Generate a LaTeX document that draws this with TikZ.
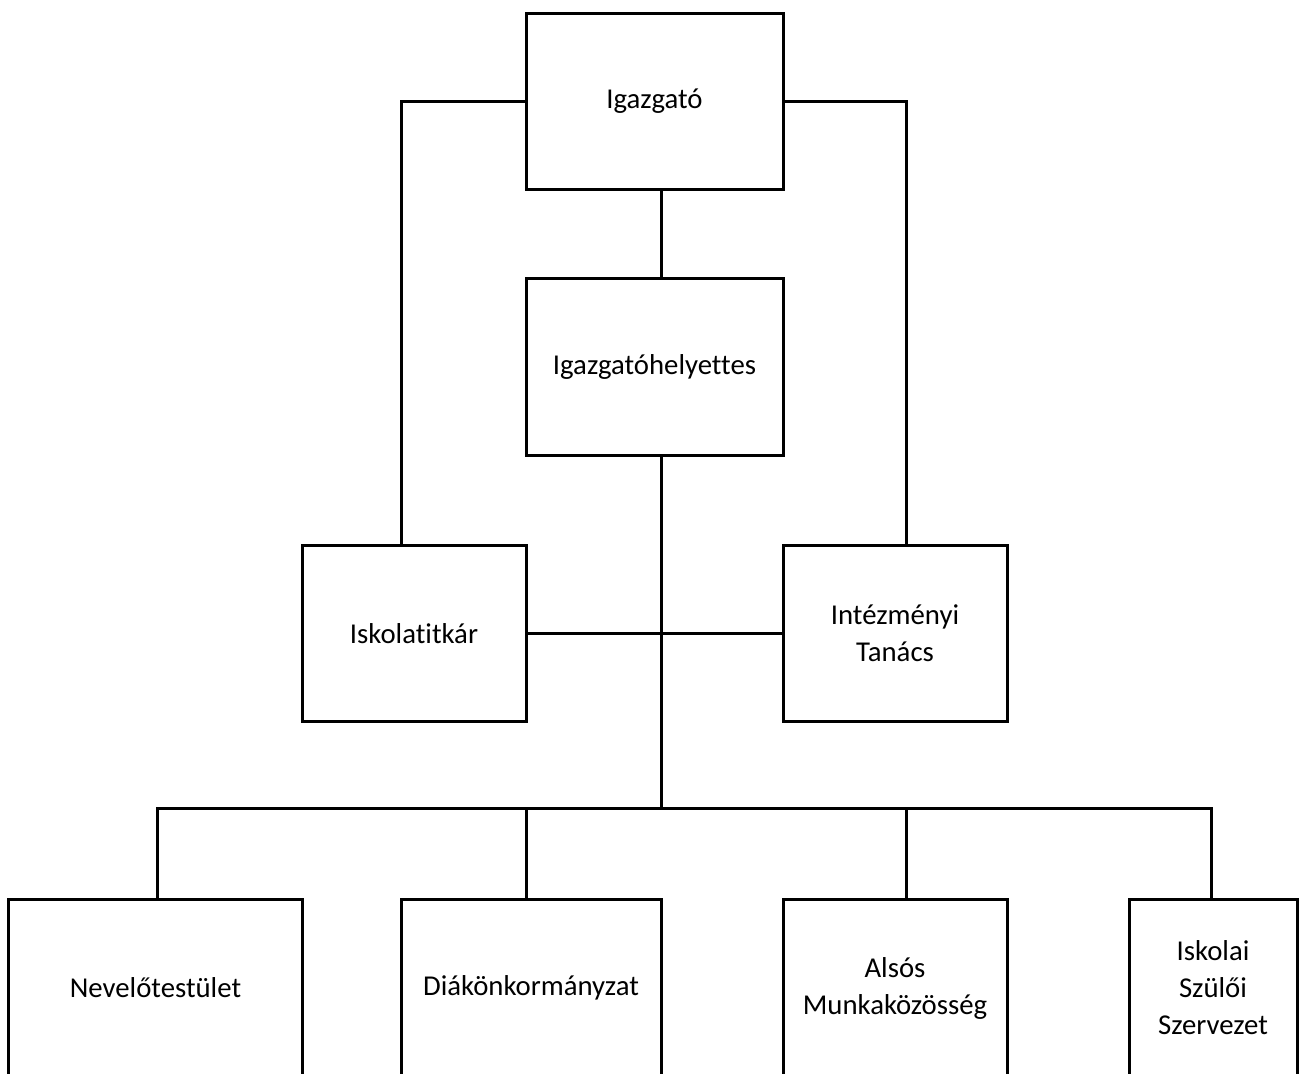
\documentclass[tikz,border=0pt]{standalone}
\usepackage{fontspec}
\setmainfont{Carlito}[Ligatures={NoCommon}]
\begin{document}
\begin{tikzpicture}[x=0.4pt,y=-0.4pt,line width=1.2pt]

        \clip (0,0) rectangle (1304,1073);

        \begin{scope}[every node/.style={draw, rectangle, align=center, inner sep=0pt,
            minimum height=70.6pt, font=\fontsize{11.5}{14.8}\selectfont}]
          \node[minimum width=102.8pt] (igazgato)  at (654.5,101.5) {Igazgató};
          \node[minimum width=102.8pt] (helyettes) at (654.5,367)   {Igazgatóhelyettes};
          \node[minimum width=89.6pt]  (titkar)    at (414,633.5)   {Iskolatitkár};
          \node[minimum width=89.6pt]  (tanacs)    at (895,633.5)   {Intézményi\\Tanács};
          \node[minimum width=117.2pt] (nevelo)    at (155.5,988)   {Nevelőtestület};
          \node[minimum width=104pt]   (diak)      at (531,988)     {Diákönkormányzat};
          \node[minimum width=89.6pt]  (alsos)     at (895,988)     {Alsós\\Munkaközösség};
          \node[minimum width=67.2pt]  (szuloi)    at (1213,988)    {Iskolai\\Szülői\\Szervezet};
        \end{scope}

        \coordinate (bus) at (661,808);

        \draw (igazgato.west) -| (titkar.north -| 401,0);
        \draw (igazgato.east) -| (tanacs.north -| 906,0);
        \draw (igazgato.south -| bus) -- (helyettes.north -| bus);
        \draw (helyettes.south -| bus) -- (bus);
        \draw (titkar.east) -- (tanacs.west);
        \draw (nevelo.north -| 157,0) |- (bus) -| (szuloi.north -| 1211,0);
        \draw (diak.north -| 526,0) -- (bus -| 526,0);
        \draw (alsos.north -| 906,0) -- (bus -| 906,0);

      \end{tikzpicture}
\end{document}
